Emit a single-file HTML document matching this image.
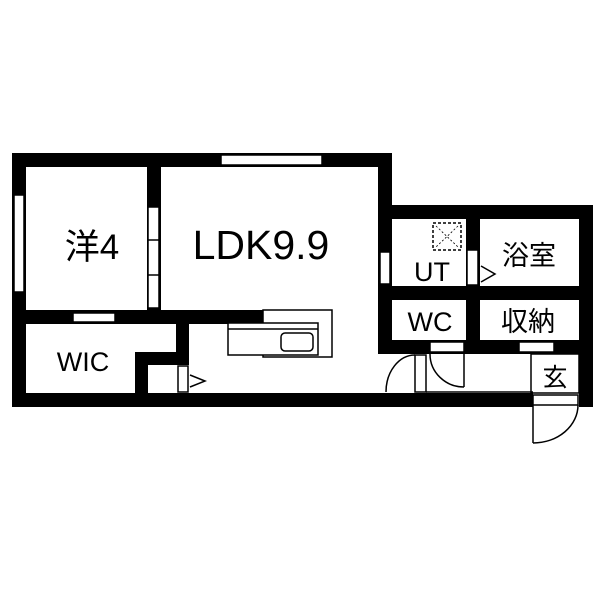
<!DOCTYPE html>
<html><head><meta charset="utf-8"><style>body{margin:0;background:#fff}svg{display:block}</style></head>
<body>
<svg width="600" height="600" viewBox="0 0 600 600" xmlns="http://www.w3.org/2000/svg" font-family="'Liberation Sans','Noto Sans CJK JP',sans-serif">
<rect width="600" height="600" fill="#fff"/>
<g fill="#000">
<rect x="12" y="153" width="380" height="14"/>
<rect x="12" y="153" width="14" height="254"/>
<rect x="12" y="393" width="521" height="14"/>
<rect x="378" y="153" width="14" height="200"/>
<rect x="378" y="205" width="215" height="14"/>
<rect x="579" y="205" width="14" height="202"/>
<rect x="147" y="153" width="14" height="171"/>
<rect x="12" y="310" width="251" height="14"/>
<rect x="176" y="310" width="13" height="55"/>
<rect x="135" y="352" width="54" height="13"/>
<rect x="135" y="352" width="13" height="50"/>
<rect x="466" y="205" width="14" height="148"/>
<rect x="378" y="286" width="215" height="14"/>
<rect x="378" y="340" width="215" height="14"/>
</g>
<g fill="#fff" stroke="#000" stroke-width="1.5">
<rect x="221" y="155" width="101" height="10"/>
<rect x="14" y="195" width="10" height="97"/>
<rect x="148" y="207" width="11" height="101"/>
<line x1="148" y1="240" x2="159" y2="240"/>
<line x1="148" y1="275" x2="159" y2="275"/>
<rect x="73" y="313" width="42" height="9"/>
<rect x="178" y="366" width="10" height="26"/>
<rect x="380" y="252" width="10" height="32"/>
<rect x="467" y="250" width="11" height="35"/>
<rect x="430" y="342" width="34" height="10"/>
<rect x="519" y="342" width="35" height="10"/>
<rect x="415" y="355" width="11" height="37"/>
<rect x="533" y="395" width="45" height="10"/>
<rect x="263" y="310" width="69" height="47"/>
<rect x="228" y="323" width="90" height="32"/>
<rect x="281" y="333" width="32" height="18" rx="4"/>
</g>
<g fill="none" stroke="#000" stroke-width="1.5">
<line x1="228" y1="329" x2="318" y2="329"/>
<polyline points="190,375 205,381 190,387"/>
<polyline points="481,266 495,274 481,282"/>
<line x1="426" y1="392" x2="533" y2="392"/>
<rect x="531" y="354" width="48" height="39"/>
<line x1="464" y1="354" x2="464" y2="387"/>
<path d="M430,354 A34,33 0 0 0 464,387"/>
<path d="M386,392 A29,37 0 0 1 415,355"/>
<line x1="533" y1="405" x2="533" y2="443"/>
<path d="M533,443 A45,38 0 0 0 578,405"/>
<rect x="433" y="223" width="28" height="27" stroke-dasharray="3,2"/>
<line x1="436" y1="226" x2="458" y2="247" stroke-width="0.8" stroke-dasharray="2,2"/>
<line x1="458" y1="226" x2="436" y2="247" stroke-width="0.8" stroke-dasharray="2,2"/>
</g>
<g fill="#000" text-anchor="middle">
<text x="92" y="259" font-size="35">洋4</text>
<text x="261" y="259" font-size="41">LDK9.9</text>
<text x="83" y="371" font-size="27">WIC</text>
<text x="432" y="281" font-size="27">UT</text>
<text x="529" y="265" font-size="27">浴室</text>
<text x="430" y="331" font-size="27">WC</text>
<text x="528" y="331" font-size="27">収納</text>
<text x="555" y="386" font-size="25">玄</text>
</g>
</svg>
</body></html>
